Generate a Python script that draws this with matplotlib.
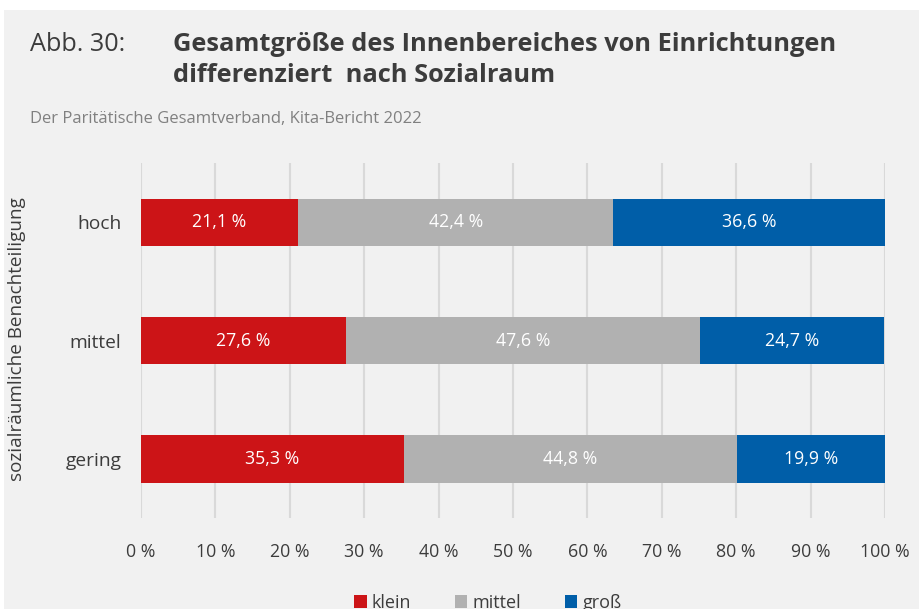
import matplotlib
matplotlib.use("Agg")
import matplotlib.pyplot as plt
from matplotlib.patches import Rectangle, Patch

categories = ["hoch", "mittel", "gering"]
series_names = ["klein", "mittel", "groß"]
klein = [21.1, 27.6, 35.3]
mittel = [42.4, 47.6, 44.8]
gross = [36.6, 24.7, 19.9]
ticks = [0, 10, 20, 30, 40, 50, 60, 70, 80, 90, 100]
tick_labels = [f"{t} %" for t in ticks]

colors = ["#cc1417", "#b1b1b1", "#005ea8"]
BG = "#f1f1f1"
TXT = "#3c3c3c"
FONT = ["Open Sans", "DejaVu Sans"]
plt.rcParams["font.family"] = FONT

fig = plt.figure(figsize=(9.2, 6.09), dpi=100)
fig.patch.set_facecolor("white")
fig.patches.append(Rectangle((4 / 920, 0), 1, 1 - 10 / 609, transform=fig.transFigure,
                             facecolor=BG, edgecolor="none", zorder=-10))

ax = fig.add_axes([141 / 920, (609 - 518) / 609, (885 - 141) / 920, (518 - 163) / 609])
ax.set_facecolor(BG)
ax.patch.set_alpha(0)

ypos = list(range(len(categories)))
left = [0.0] * len(categories)
for vals, col in zip([klein, mittel, gross], colors):
    ax.barh(ypos, vals, left=left, height=0.4, color=col, zorder=3)
    for y, v, l in zip(ypos, vals, left):
        ax.text(l + v / 2, y, f"{v:.1f}".replace(".", ",") + " %", ha="center", va="center",
                color="white", fontsize=12.8, zorder=4)
    left = [l + v for l, v in zip(left, vals)]

ax.set_xlim(0, 100)
ax.set_ylim(len(categories) - 0.5, -0.5)
ax.set_xticks(ticks)
ax.set_xticklabels(tick_labels)
ax.set_yticks(ypos)
ax.set_yticklabels(categories)
ax.tick_params(axis="x", length=0, pad=18, labelsize=12.8, labelcolor=TXT)
ax.tick_params(axis="y", length=0, pad=14, labelsize=13.8, labelcolor=TXT)
ax.grid(axis="x", color="#d9d9d9", linewidth=1.5, zorder=0)
for s in ax.spines.values():
    s.set_visible(False)

fig.text(17 / 920, 1 - 339 / 609, "sozialräumliche Benachteiligung", rotation=90,
         ha="center", va="center", fontsize=13.6, color=TXT)

fig.text(30 / 920, 1 - 51 / 609, "Abb. 30:", fontsize=18.2, color=TXT, va="baseline")
fig.text(173 / 920, 1 - 51 / 609, "Gesamtgröße des Innenbereiches von Einrichtungen",
         fontsize=18.3, fontweight="bold", color=TXT, va="baseline")
fig.text(173 / 920, 1 - 82 / 609, "differenziert  nach Sozialraum",
         fontsize=18.3, fontweight="bold", color=TXT, va="baseline")
fig.text(30 / 920, 1 - 123 / 609, "Der Paritätische Gesamtverband, Kita-Bericht 2022",
         fontsize=12, color="#808080", va="baseline")

handles = [Patch(facecolor=c, edgecolor="none") for c in colors]
fig.legend(handles, series_names, loc="center", bbox_to_anchor=(488 / 920, 1 - 603 / 609),
           ncol=3, frameon=False, fontsize=13, handlelength=0.7, handleheight=0.7,
           handletextpad=0.3, columnspacing=2.4, labelcolor=TXT)

fig.savefig("out.png", dpi=100, facecolor=fig.get_facecolor())
